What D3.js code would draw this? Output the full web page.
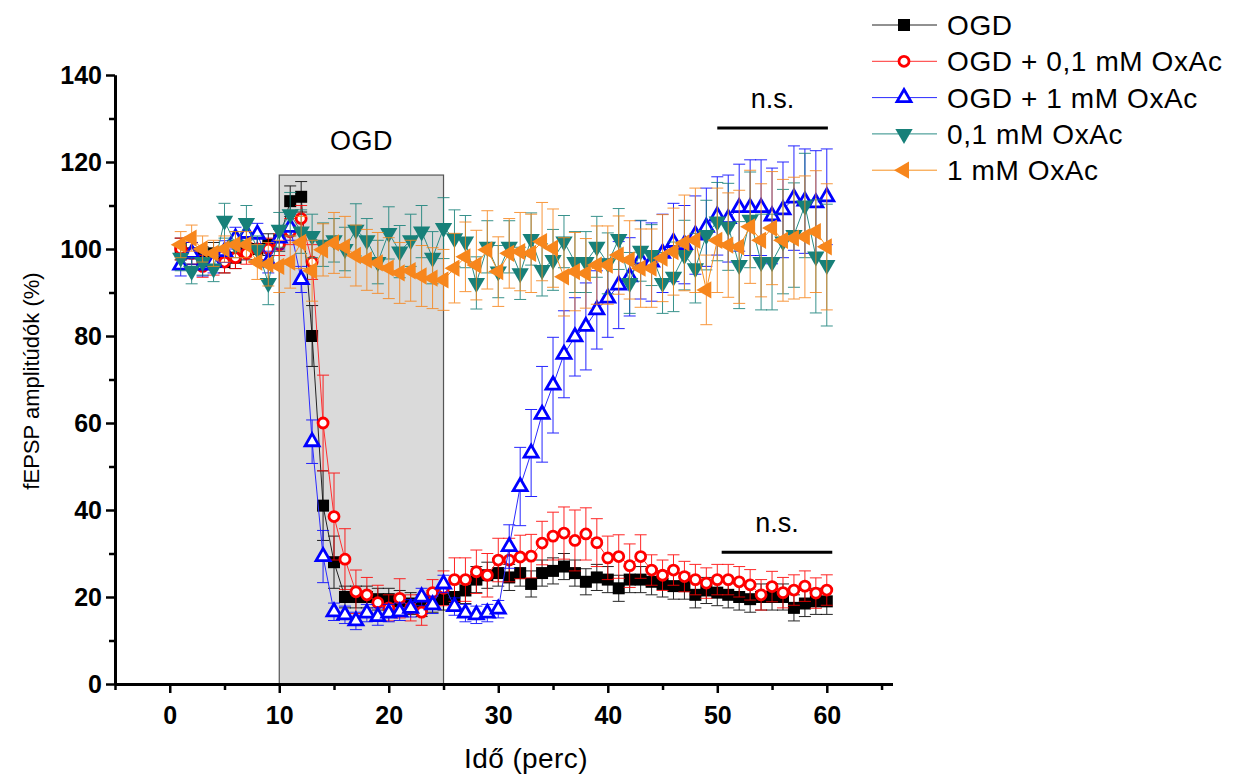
<!DOCTYPE html>
<html>
<head>
<meta charset="utf-8">
<script src="https://cdn.jsdelivr.net/npm/d3@7"></script>
<style>
  body { margin: 0; background: #fff; }
  svg { display: block; font-family: "Liberation Sans", Arial, sans-serif; }
  .tick text { font-family: "Liberation Sans Narrow", "Arial Narrow", sans-serif; font-weight: bold; font-size: 25px; fill: #000; }
</style>
</head>
<body>
<script>
// time points (minutes)
const minutes = d3.range(1, 61);

// OGD
const ogdVals = [100, 99, 98, 99, 97, 98, 100, 100, 101, 102,
    111, 112, 80, 41, 28, 20, 20, 20, 19.5, 19.5,
    19, 18.5, 18, 19, 19.5, 20, 21.5, 24, 25, 25.5,
    24.5, 25.5, 23, 25.5, 26, 27, 25.5, 23.5, 24.5, 24,
    22, 24, 24, 23.5, 23, 22.5, 22.5, 20.5, 21.5, 21,
    20.5, 20, 19.5, 20, 20, 20, 17.5, 18.5, 19, 19];
const ogdErr = [2.5, 2.5, 2.5, 2.5, 2.5, 2.5, 2.5, 2.5, 2.5, 2.5,
    3.5, 3.5, 7, 8, 6, 2.5, 2.5, 2.5, 2.5, 2.5,
    2.5, 2.5, 2.5, 2.5, 2.5, 3, 3, 3, 3, 3,
    3, 3, 3, 3, 3, 3, 3, 3, 3, 3,
    3, 3, 3, 3, 3, 3, 3, 3, 3, 3,
    3, 3, 3, 3, 3, 3, 3, 3, 3, 3];

// OGD + 0,1 mM OxAc
const ogdOx01Vals = [100, 99, 96, 96.5, 97, 98, 99, 100, 100, 101,
    104, 107, 97, 60, 38.5, 28.7, 21.2, 20.5, 18.7, 17.5,
    19.7, 17.5, 16.5, 21, 22, 24, 24, 25.8, 25, 28.5,
    28.5, 29.2, 29.4, 32.4, 34, 34.7, 33, 34.5, 32.5, 29,
    29.3, 27.2, 29.3, 26.2, 25, 26.2, 24.7, 24, 23.2, 24,
    24, 23.5, 22.8, 20.5, 22.4, 21, 21.6, 22.5, 20.9, 21.6];
const ogdOx01Err = [2.5, 2.5, 2.5, 2.5, 2.5, 2.5, 2.5, 2.5, 2.5, 2.5,
    3, 3, 4, 11, 10, 7, 5, 4, 4, 3,
    4.5, 3, 3, 3, 4, 5, 5, 5, 5, 5,
    5, 5, 5, 5, 5.5, 6, 7, 6, 5.5, 5,
    5, 5, 5, 3.5, 3.5, 3.5, 3.5, 3.5, 3.5, 3.5,
    3.5, 3.5, 3.5, 3.5, 3.5, 3.5, 3.5, 3.5, 3.5, 3.5];

// OGD + 1 mM OxAc
const ogdOx1Vals = [96.3, 99, 96.3, 97, 99.4, 102.5, 103.6, 103.4, 97, 102.5,
    105, 93, 55.7, 29.3, 16.6, 15.9, 14.5, 16.3, 15.5, 16.3,
    16.6, 17.4, 20, 18.2, 23, 17.8, 16.3, 15.9, 16.3, 17.2,
    31.6, 45.4, 53.1, 62, 68.7, 75.8, 79.8, 82.2, 86, 88.7,
    91.7, 93.6, 97.5, 97, 99, 101.5, 101, 103.2, 105, 107.6,
    107, 109.5, 109.5, 109.5, 107.6, 109, 111.7, 111, 110.6, 112];
const ogdOx1Err = [2.5, 2.5, 2.5, 2.5, 2.5, 2.5, 2.5, 2.5, 2.5, 2.5,
    3, 3, 5, 6, 2, 2, 2, 2, 2, 2,
    2, 2, 2, 2, 2, 2, 2, 2, 2, 2,
    5, 9, 10, 11, 11, 10, 9, 10, 9, 9,
    10, 9, 9, 9, 9, 9, 9, 9, 9, 9,
    10, 10, 11, 11, 11, 11, 12, 12, 12, 11];

// 0,1 mM OxAc
const ox01Vals = [98, 95, 97, 95.5, 106.5, 101, 106, 100, 92.2, 104.4,
    108, 104, 103, 101, 102, 100, 104.4, 102, 97, 103.7,
    99.4, 102, 104, 98, 104.8, 102.5, 101.7, 92.2, 100.5, 94.8,
    100.5, 94.4, 102.3, 95.2, 97.5, 101.7, 97, 97, 100.5, 96.7,
    102.3, 92.2, 99.6, 98.6, 92.2, 93.6, 98.6, 95.6, 103.2, 106.3,
    105.1, 96.3, 106.7, 97, 97, 101.7, 103.2, 110, 98.3, 96.3];
const ox01Err = [3, 3, 3, 3, 4, 3, 4, 3, 5, 4,
    5, 5, 5, 5, 5, 5, 6, 5, 5, 6,
    6, 6, 6, 6, 7, 6.5, 6, 6, 6, 6,
    6, 6, 6, 6, 7, 6, 7, 7, 7, 7,
    7, 7, 7, 7, 7, 8, 8, 8, 8, 9,
    10, 10, 11, 11, 11, 12, 12, 12, 13, 14];

// 1 mM OxAc
const ox1Vals = [101, 102.5, 100, 99, 100, 101, 101, 97, 96.5, 96,
    97, 101.5, 95, 99.8, 101.4, 100.5, 98.5, 97.5, 96.8, 95.6,
    94.5, 95, 93.8, 93.3, 92.9, 95.6, 98.2, 96.3, 99.8, 94.8,
    99, 99.4, 99, 101.7, 100.2, 93.6, 94.8, 94.4, 96.3, 96.3,
    98.6, 97.5, 95.6, 95.6, 97.9, 99.4, 101.4, 102, 90.6, 102,
    100.9, 100.5, 105.1, 102, 104.8, 102, 102.5, 102.8, 104, 100.5];
const ox1Err = [3, 3, 3, 3, 3, 3, 3, 4, 5, 6,
    6, 6, 7, 6, 7, 7, 7, 7, 7, 7,
    7, 7, 7, 7, 7, 8, 8, 8, 9, 8,
    8, 9, 9, 9, 9, 9, 9, 8, 9, 9,
    9, 9, 9, 9, 10, 10, 11, 12, 8, 12,
    12, 13, 13, 13, 13, 14, 14, 14, 14, 14.5];

const seriesNames = ["OGD", "OGD + 0,1 mM OxAc", "OGD + 1 mM OxAc", "0,1 mM OxAc", "1 mM OxAc"];

// OGD period and significance markers
const ogdPeriod = [10, 25];
const ogdPeriodTop = 117;
const nsMarks = [
    { x0: 50, x1: 60.1, y: 127.8, label: "n.s." },
    { x0: 50.4, x1: 60.5, y: 30.3, label: "n.s." }
];

const xMajor = [0, 10, 20, 30, 40, 50, 60];
const xMinor = [-5, 5, 15, 25, 35, 45, 55, 65];
const yMajor = [0, 20, 40, 60, 80, 100, 120, 140];
const yMinor = [10, 30, 50, 70, 90, 110, 130];

function init() {
    const w = 1241;
    const h = 778;

    const svg = d3.select("body").append("svg")
        .attr("width", w)
        .attr("height", h);

    const x = d3.scaleLinear().domain([-5, 66]).range([115, 892.5]);
    const y = d3.scaleLinear().domain([0, 140]).range([684, 75]);

    // grey box for the OGD period
    svg.append("rect")
        .attr("x", x(ogdPeriod[0]))
        .attr("y", y(ogdPeriodTop))
        .attr("width", x(ogdPeriod[1]) - x(ogdPeriod[0]))
        .attr("height", y(0) - y(ogdPeriodTop))
        .attr("fill", "#dadada")
        .attr("stroke", "#555")
        .attr("stroke-width", 1.2);

    svg.append("text")
        .attr("x", (x(ogdPeriod[0]) + x(ogdPeriod[1])) / 2)
        .attr("y", 150)
        .attr("text-anchor", "middle")
        .style("font-size", "27px")
        .style("letter-spacing", "0.5px")
        .text("OGD");

    // axes
    const styleAxis = g => {
        g.select(".domain").attr("stroke-width", 3);
        g.selectAll(".tick line").attr("stroke-width", 2.5);
    };

    svg.append("g")
        .attr("transform", `translate(0,${y(0)})`)
        .call(d3.axisBottom(x).tickValues(xMinor).tickSize(6).tickSizeOuter(0).tickFormat(""))
        .call(styleAxis);
    svg.append("g")
        .attr("transform", `translate(0,${y(0)})`)
        .call(d3.axisBottom(x).tickValues(xMajor).tickSize(9).tickSizeOuter(0).tickPadding(13))
        .call(styleAxis);

    svg.append("g")
        .attr("transform", `translate(${x(-5)},0)`)
        .call(d3.axisLeft(y).tickValues(yMinor).tickSize(6).tickSizeOuter(0).tickFormat(""))
        .call(styleAxis);
    svg.append("g")
        .attr("transform", `translate(${x(-5)},0)`)
        .call(d3.axisLeft(y).tickValues(yMajor).tickSize(9).tickSizeOuter(0).tickPadding(4))
        .call(styleAxis);

    svg.append("text")
        .attr("x", 526)
        .attr("y", 768)
        .attr("text-anchor", "middle")
        .style("font-size", "28px")
        .style("letter-spacing", "0.4px")
        .text("Idő (perc)");

    svg.append("text")
        .attr("transform", "rotate(-90)")
        .attr("x", -381)
        .attr("y", 39)
        .attr("text-anchor", "middle")
        .style("font-size", "22px")
        .text("fEPSP amplitúdók (%)");

    // series table
    const tri = Math.sqrt(3) / 4;
    const series = [
        { name: seriesNames[0], vals: ogdVals, err: ogdErr, color: "#000000", line: "#222",
          symbol: d3.symbolSquare, size: 144, rot: 0, fill: "#000000", sw: 0 },
        { name: seriesNames[1], vals: ogdOx01Vals, err: ogdOx01Err, color: "#ff0000", line: "#ff3030",
          symbol: d3.symbolCircle, size: Math.PI * 25, rot: 0, fill: "#ffffff", sw: 2.8 },
        { name: seriesNames[2], vals: ogdOx1Vals, err: ogdOx1Err, color: "#0000ff", line: "#2a2aff",
          symbol: d3.symbolTriangle, size: tri * 196, rot: 0, fill: "#ffffff", sw: 2.8 },
        { name: seriesNames[3], vals: ox01Vals, err: ox01Err, color: "#178079", line: "#2a8c86",
          symbol: d3.symbolTriangle, size: tri * 300, rot: 180, fill: "#178079", sw: 0 },
        { name: seriesNames[4], vals: ox1Vals, err: ox1Err, color: "#f7861c", line: "#f7901f",
          symbol: d3.symbolTriangle, size: tri * 300, rot: -90, fill: "#f7861c", sw: 0 }
    ];

    const line = d3.line()
        .x(d => x(d.t))
        .y(d => y(d.v));

    const cap = 6;

    series.forEach(s => {
        const pts = minutes.map((t, i) => ({ t: t, v: s.vals[i], e: s.err[i] }));
        const g = svg.append("g");

        // error bars
        const eb = g.selectAll(".eb").data(pts).enter().append("g")
            .attr("stroke", s.color)
            .attr("stroke-width", 1)
            .attr("opacity", 0.85);
        eb.append("line")
            .attr("x1", d => x(d.t)).attr("x2", d => x(d.t))
            .attr("y1", d => y(d.v + d.e)).attr("y2", d => y(d.v - d.e));
        eb.append("line")
            .attr("x1", d => x(d.t) - cap).attr("x2", d => x(d.t) + cap)
            .attr("y1", d => y(d.v + d.e)).attr("y2", d => y(d.v + d.e));
        eb.append("line")
            .attr("x1", d => x(d.t) - cap).attr("x2", d => x(d.t) + cap)
            .attr("y1", d => y(d.v - d.e)).attr("y2", d => y(d.v - d.e));

        g.append("path")
            .datum(pts)
            .attr("d", line)
            .attr("fill", "none")
            .attr("stroke", s.line)
            .attr("stroke-width", 1);

        g.selectAll(".mk").data(pts).enter().append("path")
            .attr("d", d3.symbol().type(s.symbol).size(s.size))
            .attr("transform", d => `translate(${x(d.t)},${y(d.v)}) rotate(${s.rot})`)
            .attr("fill", s.fill)
            .attr("stroke", s.sw ? s.color : "none")
            .attr("stroke-width", s.sw);
    });

    // n.s. markers
    nsMarks.forEach(m => {
        svg.append("line")
            .attr("x1", x(m.x0)).attr("x2", x(m.x1))
            .attr("y1", y(m.y)).attr("y2", y(m.y))
            .attr("stroke", "#000")
            .attr("stroke-width", 3);
        svg.append("text")
            .attr("x", (x(m.x0) + x(m.x1)) / 2)
            .attr("y", y(m.y) - 20)
            .attr("text-anchor", "middle")
            .style("font-size", "27px")
            .text(m.label);
    });

    // legend
    const legend = svg.append("g").attr("transform", "translate(872,25)");
    series.forEach((s, i) => {
        const row = legend.append("g").attr("transform", `translate(0,${i * 36.3})`);
        row.append("line")
            .attr("x1", 0).attr("x2", 65)
            .attr("stroke", s.line)
            .attr("stroke-width", 1);
        row.append("path")
            .attr("d", d3.symbol().type(s.symbol).size(s.size))
            .attr("transform", `translate(32,0) rotate(${s.rot})`)
            .attr("fill", s.fill)
            .attr("stroke", s.sw ? s.color : "none")
            .attr("stroke-width", s.sw);
        row.append("text")
            .attr("x", 75)
            .attr("y", 10)
            .style("font-size", "28px")
            .style("letter-spacing", "0.6px")
            .text(s.name);
    });
}

window.onload = init;
</script>
</body>
</html>
